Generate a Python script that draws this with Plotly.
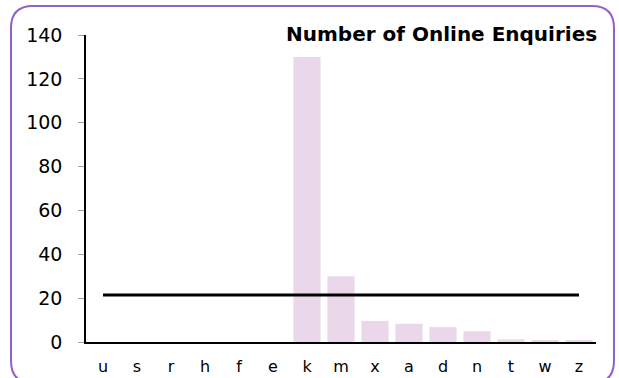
import plotly.graph_objects as go

# Enquiries per region code
categories = ["u", "s", "r", "h", "f", "e", "k", "m", "x", "a", "d", "n", "t", "w", "z"]
enquiries = [0, 0, 0, 0, 0, 0, 130, 30, 9.6, 8.3, 6.8, 4.9, 1.2, 0.6, 0.6]
average_line = [21.4] * len(categories)
y_ticks = [0, 20, 40, 60, 80, 100, 120, 140]

W, H = 619, 378
ML, MR, MT, MB = 86, 23, 35, 36
PW, PH = W - ML - MR, H - MT - MB


def px(x):
    return (x - ML) / PW


def py(y):
    return (H - MB - y) / PH


FONT = "DejaVu Sans, Verdana, sans-serif"
BAR_COLOR = "#EAD8EA"
FRAME_COLOR = "#9461C6"

fig = go.Figure()
fig.add_trace(go.Bar(
    x=categories, y=enquiries,
    marker=dict(color=BAR_COLOR, line=dict(width=0)),
    hoverinfo="skip", showlegend=False,
))
fig.add_trace(go.Scatter(
    x=categories, y=average_line, mode="lines",
    line=dict(color="black", width=3),
    hoverinfo="skip", showlegend=False,
))

# rounded outer frame
x0, x1, y0, y1, r = 11, 614, 6, 383, 22
frame = (
    f"M {px(x0 + r)} {py(y0)} L {px(x1 - r)} {py(y0)} "
    f"Q {px(x1)} {py(y0)} {px(x1)} {py(y0 + r)} "
    f"L {px(x1)} {py(y1 - r)} Q {px(x1)} {py(y1)} {px(x1 - r)} {py(y1)} "
    f"L {px(x0 + r)} {py(y1)} Q {px(x0)} {py(y1)} {px(x0)} {py(y1 - r)} "
    f"L {px(x0)} {py(y0 + r)} Q {px(x0)} {py(y0)} {px(x0 + r)} {py(y0)} Z"
)
fig.add_shape(type="path", path=frame, xref="paper", yref="paper",
              line=dict(color=FRAME_COLOR, width=2), layer="above")

fig.add_annotation(
    text="<b>Number of Online Enquiries</b>",
    xref="paper", yref="paper", x=px(599), y=py(34),
    xanchor="right", yanchor="middle", showarrow=False,
    font=dict(family=FONT, size=20, color="black"),
)

fig.update_layout(
    width=W, height=H,
    margin=dict(l=ML, r=MR, t=MT, b=MB, pad=0, autoexpand=False),
    paper_bgcolor="white", plot_bgcolor="white",
    bargap=0.2,
    font=dict(family=FONT, color="black"),
    xaxis=dict(
        showgrid=False, zeroline=False, showline=True, linecolor="black",
        linewidth=1.5, ticks="", tickfont=dict(size=16), ticklabelstandoff=9,
        automargin=False, fixedrange=True,
    ),
    yaxis=dict(
        range=[0, 140], tickvals=y_ticks, showgrid=False, zeroline=False,
        showline=True, linecolor="black", linewidth=1.5,
        ticks="outside", ticklen=6, tickcolor="#A0A0A0", tickwidth=1,
        tickfont=dict(size=19), ticklabelstandoff=12,
        automargin=False, fixedrange=True,
    ),
)

fig.write_html("out.html", config={"displayModeBar": False})
